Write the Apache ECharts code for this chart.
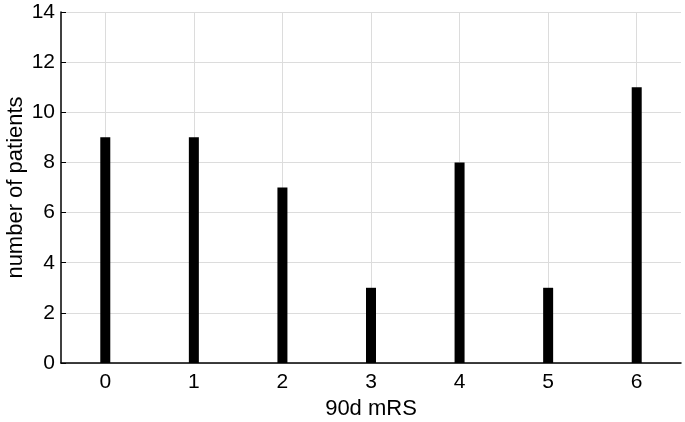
<!DOCTYPE html>
<html>
<head>
<meta charset="utf-8">
<script src="https://cdn.jsdelivr.net/npm/echarts@6/dist/echarts.min.js"></script>
<style>
  html, body { margin: 0; padding: 0; background: #fff; }
  #main { width: 685px; height: 422px; }
</style>
</head>
<body>
<div id="main"></div>
<script>
var myChart = echarts.init(document.getElementById('main'));

// 90d mRS score categories and patient counts
const mrsScores = ['0', '1', '2', '3', '4', '5', '6'];
const patientCounts = [9, 9, 7, 3, 8, 3, 11];
const yTicks = { min: 0, max: 14, interval: 2 };

const font = 'Liberation Sans, Arial, Helvetica, sans-serif';

option = {
    animation: false,
    backgroundColor: '#fff',
    grid: {
        left: 61,
        right: 4,
        top: 12,
        bottom: 59,
        containLabel: false,
        outerBoundsMode: 'none'
    },
    xAxis: {
        type: 'category',
        data: mrsScores,
        name: '90d mRS',
        nameLocation: 'middle',
        nameGap: 35,
        nameTextStyle: { color: '#000', fontSize: 22, fontFamily: font },
        axisLine: { lineStyle: { color: '#000', width: 1.5 } },
        axisTick: { show: false },
        axisLabel: { color: '#000', fontSize: 21, fontFamily: font, margin: 9 },
        splitLine: {
            show: true,
            alignWithLabel: true,
            lineStyle: { color: '#dcdcdc', width: 1 }
        }
    },
    yAxis: {
        type: 'value',
        min: yTicks.min,
        max: yTicks.max,
        interval: yTicks.interval,
        name: 'number of patients',
        nameLocation: 'middle',
        nameGap: 34,
        nameMoveOverlap: false,
        nameTextStyle: { color: '#000', fontSize: 22, fontFamily: font },
        axisLine: { show: true, lineStyle: { color: '#000', width: 1.5 } },
        axisTick: { show: true, inside: true, length: 5, lineStyle: { color: '#000' } },
        axisLabel: { color: '#000', fontSize: 21, fontFamily: font, margin: 6 },
        splitLine: { show: true, lineStyle: { color: '#dcdcdc', width: 1 } }
    },
    series: [
        {
            type: 'bar',
            data: patientCounts,
            barWidth: 10,
            itemStyle: { color: '#000' }
        }
    ]
};

myChart.setOption(option);
</script>
</body>
</html>
